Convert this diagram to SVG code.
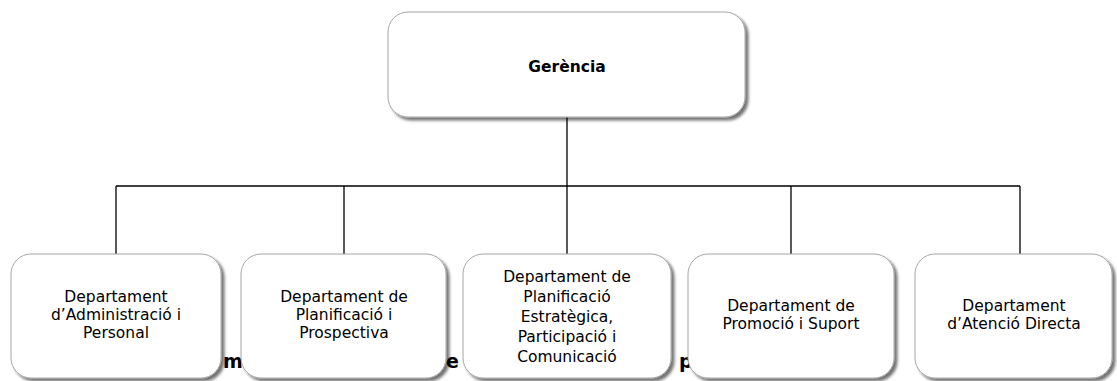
<svg xmlns="http://www.w3.org/2000/svg" width="1117" height="381" viewBox="0 0 1117 381">
<defs>
<filter id="sh" x="-10%" y="-10%" width="130%" height="140%">
<feGaussianBlur in="SourceAlpha" stdDeviation="1.8"/>
<feOffset dx="3" dy="3" result="b"/>
<feComponentTransfer><feFuncA type="linear" slope="0.55"/></feComponentTransfer>
<feMerge><feMergeNode/><feMergeNode in="SourceGraphic"/></feMerge>
</filter>
</defs>
<style>
.box{fill:#fff;stroke:#a6a6a6;stroke-width:1;filter:url(#sh)}
.t{font-family:"DejaVu Sans",Verdana,sans-serif;font-size:15.5px;fill:#000;text-anchor:middle}
.b{font-weight:bold}
.h{font-family:"DejaVu Sans",Verdana,sans-serif;font-size:19px;font-weight:bold;fill:#000}
.c{stroke:#000;stroke-width:1.3;fill:none}
</style>
<rect width="1117" height="381" fill="#fff"/>
<g id="hidden-title">
<text class="h" x="223" y="368">m</text>
<text class="h" x="446" y="368">e</text>
<text class="h" x="679" y="368">p</text>
</g>
<g id="connectors">
<path class="c" d="M567 117V186M116 186H1020M116 186V254M344 186V254M567 186V254M791 186V254M1020 186V254"/>
</g>
<g id="gerencia">
<rect class="box" x="388" y="12" width="357" height="105" rx="20"/>
<text class="t b" x="567" y="72">Gerència</text>
</g>
<g id="dept-admin">
<rect class="box" x="11" y="254" width="210" height="124" rx="20"/>
<text class="t" x="116" y="302">Departament</text>
<text class="t" x="116" y="320">d’Administració i</text>
<text class="t" x="116" y="338">Personal</text>
</g>
<g id="dept-planif">
<rect class="box" x="241" y="254" width="205" height="124" rx="20"/>
<text class="t" x="344" y="302">Departament de</text>
<text class="t" x="344" y="320">Planificació i</text>
<text class="t" x="344" y="338">Prospectiva</text>
</g>
<g id="dept-estrat">
<rect class="box" x="463" y="254" width="208" height="124" rx="20"/>
<text class="t" x="567" y="282">Departament de</text>
<text class="t" x="567" y="302">Planificació</text>
<text class="t" x="567" y="322">Estratègica,</text>
<text class="t" x="567" y="342">Participació i</text>
<text class="t" x="567" y="362">Comunicació</text>
</g>
<g id="dept-promo">
<rect class="box" x="688" y="254" width="206" height="124" rx="20"/>
<text class="t" x="791" y="311">Departament de</text>
<text class="t" x="791" y="329">Promoció i Suport</text>
</g>
<g id="dept-atencio">
<rect class="box" x="915" y="254" width="197" height="124" rx="20"/>
<text class="t" x="1014" y="311">Departament</text>
<text class="t" x="1014" y="329">d’Atenció Directa</text>
</g>
</svg>
